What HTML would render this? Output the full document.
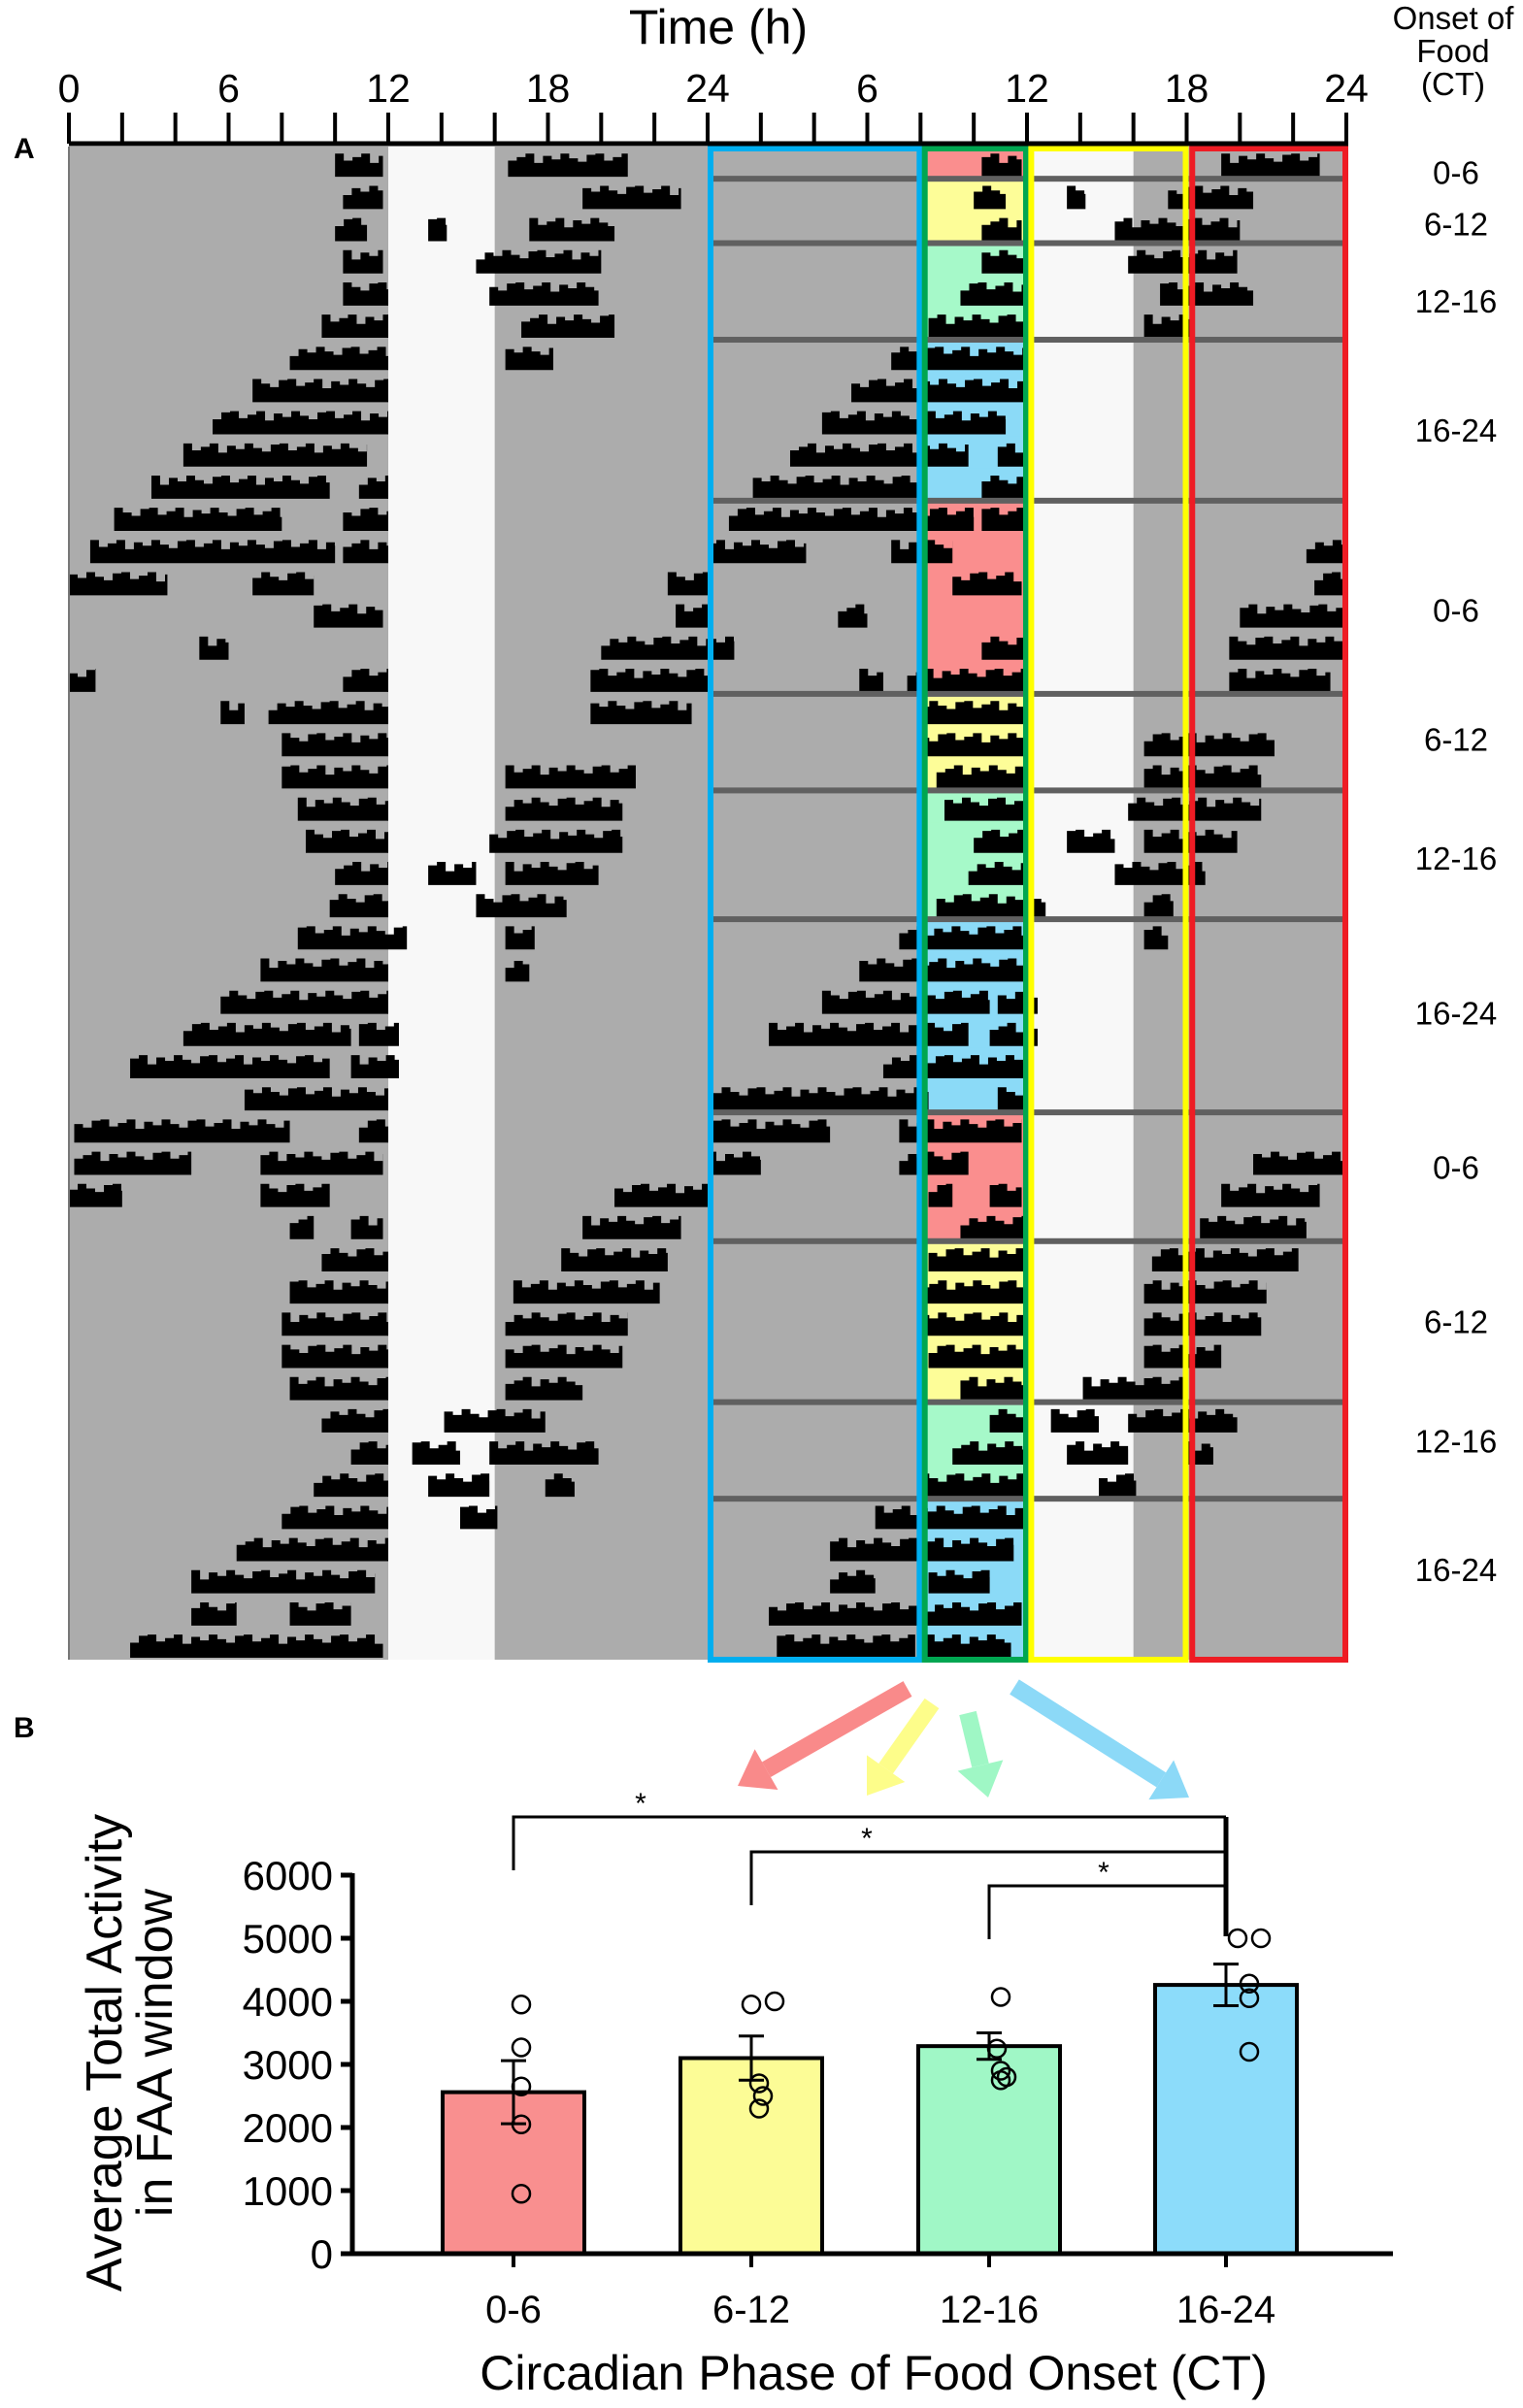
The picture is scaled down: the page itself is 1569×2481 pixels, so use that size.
<!DOCTYPE html>
<html><head><meta charset="utf-8">
<style>
html,body{margin:0;padding:0;background:#fff;}
svg{display:block;font-family:"Liberation Sans",Arial,sans-serif;}
</style></head>
<body>
<svg id="fig" width="1569" height="2481" viewBox="0 0 1569 2481" xmlns="http://www.w3.org/2000/svg">
<g id="acto"></g>
<g id="bars"></g>
</svg>
<script>
// ---------- Actogram data (hours within each day) ----------
const activityRows = [
[[10,11.8],[16.5,21]],[[10.3,11.8],[19.3,23]],[[10,11.2],[13.5,14.2],[17.3,20.5]],[[10.3,11.8],[15.3,20]],
[[10.3,12],[15.8,19.9]],[[9.5,12],[17,20.5]],[[8.3,12],[16.4,18.2]],[[6.9,12]],[[5.4,12]],[[4.3,11.2]],
[[3.1,9.8],[10.9,12]],[[1.7,8],[10.3,12]],[[0.8,10],[10.3,12]],[[0,3.7],[6.9,9.2],[22.5,24]],[[9.2,11.8],[22.8,24]],
[[4.9,6],[20,24]],[[0,1],[10.3,12],[19.6,24]],[[5.7,6.6],[7.5,12],[19.6,23.4]],[[8,12]],[[8,12],[16.4,21.3]],
[[8.6,12],[16.4,20.8]],[[8.9,12],[15.8,20.8]],[[10,12],[13.5,15.3],[16.4,19.9]],[[9.8,12],[15.3,18.7]],[[8.6,12.7],[16.4,17.5]],
[[7.2,12],[16.4,17.3]],[[5.7,12]],[[4.3,10.6],[10.9,12.4]],[[2.3,9.8],[10.6,12.4]],[[6.6,12]],
[[0.2,8.3],[10.9,12]],[[0.2,4.6],[7.2,11.8]],[[0,2],[7.2,9.8],[20.5,24]],[[8.3,9.2],[10.6,11.8],[19.3,23]],[[9.5,12],[18.5,22.5]],
[[8.3,12],[16.7,22.2]],[[8,12],[16.4,21]],[[8,12],[16.4,20.8]],[[8.3,12],[16.4,19.3]],[[9.5,12],[14.1,17.9]],
[[10.6,12],[12.9,14.7],[15.8,19.9]],[[9.2,12],[13.5,15.8],[17.9,19]],[[8,12],[14.7,16.1]],[[6.3,12]],[[4.6,11.5]],
[[4.6,6.3],[8.3,10.6]],[[2.3,11.8]],[[2.6,7.8],[8.2,11.4]]
];
const groupOfRow = ["p","y","y","g","g","g","b","b","b","b","b","p","p","p","p","p","p","y","y","y","g","g","g","g","b","b","b","b","b","b","p","p","p","p","y","y","y","y","y","g","g","g","b","b","b","b","b"];
const separatorRows = [1,3,6,11,17,20,24,30,34,39,42];
const groupLabels = ["0-6","6-12","12-16","16-24","0-6","6-12","12-16","16-24","0-6","6-12","12-16","16-24"];
const groupLabelRows = [0.3,1.9,4.3,8.3,13.9,17.9,21.6,26.4,31.2,36,39.7,43.7];
const hourTicks = [0,6,12,18,24,6,12,18,24];

// ---------- Bar chart data ----------
const phases = ["0-6","6-12","12-16","16-24"];
const means = [2560,3100,3290,4260];
const sems = [500,350,210,330];
const points = [[3950,3270,2650,2050,950],[3950,4000,2700,2500,2300],[4070,3250,2900,2750,2800],[5000,5000,4280,4050,3200]];
const jitter = [[8,8,8,8,8],[0,24,8,12,8],[12,8,12,12,18],[12,36,24,24,24]];
const yTicks = [0,1000,2000,3000,4000,5000,6000];

const NS="http://www.w3.org/2000/svg";
function mk(parent,tag,attrs){const e=document.createElementNS(NS,tag);for(const k in attrs)e.setAttribute(k,attrs[k]);parent.appendChild(e);return e;}

// ---------- Actogram ----------
const A=document.getElementById('acto');
const X0=71, DAY=658, TOP=151, BOT=1710, NR=47, RH=(BOT-TOP)/NR;
const hx=h=>X0+h/24*DAY;
const ry=r=>TOP+r*RH;
const groupFill={p:"#fa8e8e",y:"#fdfd98",g:"#a6f9c9",b:"#8bdaf7"};
const jag=[1,0.7,0.85,1,0.6,0.9,0.75,1,0.8,0.65,0.95];

let bg=mk(A,'rect',{x:X0,y:TOP,width:2*DAY,height:BOT-TOP,fill:"#acacac"});

let w1=mk(A,'rect',{x:hx(12),y:TOP,width:hx(16)-hx(12),height:BOT-TOP,fill:"#f8f8f8"});

let w2=mk(A,'rect',{x:hx(36),y:TOP,width:hx(40)-hx(36),height:BOT-TOP,fill:"#f8f8f8"});

for(let r=0;r<NR;r++){
  let c=mk(A,'rect',{x:hx(32.1),y:ry(r),width:hx(36)-hx(32.1),height:RH+1,fill:groupFill[groupOfRow[r]]});
  
}
let segCount=0;
function drawSeg(r,h0,h1){
  const base=ry(r)+RH*0.94,H=RH*0.72;
  const x0=hx(h0),x1=hx(h1);
  let d="M"+x0+","+base;
  let k=segCount++;
  for(let x=x0;x<x1;x+=9){
    const xe=Math.min(x1,x+9);
    const hh=H*jag[(k++)%jag.length];
    d+="L"+x+","+(base-hh)+"L"+xe+","+(base-hh);
  }
  d+="L"+Math.max(x1,x0+2)+","+base+"Z";
  let b=mk(A,'path',{d:d,fill:"#000"});
  
}
for(let r=0;r<NR;r++){
  activityRows[r].forEach(s=>drawSeg(r,s[0],s[1]));
  activityRows[r+1].forEach(s=>drawSeg(r,s[0]+24,s[1]+24));
}
separatorRows.forEach(r=>{
  let s=mk(A,'rect',{x:hx(24)+4,y:ry(r)-3,width:DAY-4,height:6,fill:"#606060"});
  
});
mk(A,'line',{x1:X0,y1:TOP,x2:X0,y2:BOT,stroke:"#777","stroke-width":2});
const boxes=[[24,32,"#00aeef","box-pre-faa"],[32.05,36,"#00a651","box-faa"],[36.05,42,"#ffff00","box-food"],[42.1,48,"#ee1c24","box-post-food"]];
boxes.forEach(b=>{let e=mk(A,'rect',{x:hx(b[0])+3,y:TOP+2,width:hx(b[1])-hx(b[0])-4,height:BOT-TOP-2,fill:"none",stroke:b[2],"stroke-width":6});
  });
mk(A,'line',{x1:X0,y1:148,x2:hx(48)+2,y2:148,stroke:"#000","stroke-width":5});
for(let h=0;h<=48;h+=2){mk(A,'line',{x1:hx(h),y1:116,x2:hx(h),y2:148,stroke:"#000","stroke-width":4});}
hourTicks.forEach((t,i)=>{let e=mk(A,'text',{x:hx(i*6),y:105,"font-size":41,"text-anchor":"middle"});e.textContent=t;
  });
let tt=mk(A,'text',{x:740,y:45,"font-size":50,"text-anchor":"middle"});tt.textContent="Time (h)";

let pa=mk(A,'text',{x:14,y:163,"font-size":30,"font-weight":"bold"});pa.textContent="A";

["Onset of","Food","(CT)"].forEach((s,i)=>{let e=mk(A,'text',{x:1497,y:30+i*34,"font-size":33,"text-anchor":"middle"});e.textContent=s;
  });
groupLabels.forEach((s,i)=>{let e=mk(A,'text',{x:1500,y:ry(groupLabelRows[i])+RH/2+12,"font-size":33,"text-anchor":"middle"});e.textContent=s;
  });

// ---------- Bar chart ----------
const B=document.getElementById('bars');
const Y0=2322, PER=65, AX=363, AXR=1435;
const yv=v=>Y0-v/1000*PER;
const cx=[529,774,1019,1263];
const barFill=["#f98f8f","#fcfc96","#a0f7c6","#8cdcfa"];
let pb=mk(B,'text',{x:14,y:1790,"font-size":30,"font-weight":"bold"});pb.textContent="B";

const arrows=[[935,1740,760,1840,"#f98a8a"],[960,1755,893,1850,"#fdfd8a"],[997,1765,1018,1852,"#9ff7c5"],[1045,1738,1225,1852,"#8cd9f7"]];
arrows.forEach(a=>{const dx=a[2]-a[0],dy=a[3]-a[1],L=Math.hypot(dx,dy),ux=dx/L,uy=dy/L,px=-uy,py=ux;
  const bx=a[2]-ux*34,by=a[3]-uy*34;
  let l=mk(B,'line',{x1:a[0],y1:a[1],x2:bx,y2:by,stroke:a[4],"stroke-width":18});
  
  let p=mk(B,'polygon',{points:`${a[2]},${a[3]} ${bx+px*24},${by+py*24} ${bx-px*24},${by-py*24}`,fill:a[4]});
  });
const brk=[[0,1872,660],[1,1908,893],[2,1943,1137]];
brk.forEach(b=>{let e=mk(B,'polyline',{points:`${cx[b[0]]},${b[1]+55} ${cx[b[0]]},${b[1]} ${cx[3]},${b[1]}`,fill:"none",stroke:"#000","stroke-width":3});
  
  let s=mk(B,'text',{x:b[2],y:b[1]-4,"font-size":30,"text-anchor":"middle"});s.textContent="*";
  });
mk(B,'line',{x1:cx[3],y1:1872,x2:cx[3],y2:1995,stroke:"#000","stroke-width":5});
phases.forEach((p,i)=>{
  let r=mk(B,'rect',{x:cx[i]-73,y:yv(means[i]),width:146,height:Y0-yv(means[i]),fill:barFill[i],stroke:"#000","stroke-width":4});
  
  const hi=yv(means[i]+sems[i]),lo=yv(means[i]-sems[i]);
  let e=mk(B,'path',{d:`M${cx[i]},${hi}V${lo}M${cx[i]-13},${hi}H${cx[i]+13}M${cx[i]-13},${lo}H${cx[i]+13}`,stroke:"#000","stroke-width":3,fill:"none"});
  
  points[i].forEach((v,j)=>{let c=mk(B,'circle',{cx:cx[i]+jitter[i][j],cy:yv(v),r:9,fill:"none",stroke:"#000","stroke-width":2.5});
    });
  let t=mk(B,'text',{x:cx[i],y:2393,"font-size":40,"text-anchor":"middle"});t.textContent=p;
  
  mk(B,'line',{x1:cx[i],y1:Y0,x2:cx[i],y2:Y0+14,stroke:"#000","stroke-width":4});
});
mk(B,'line',{x1:AX,y1:yv(6000)-2,x2:AX,y2:Y0+2,stroke:"#000","stroke-width":5});
mk(B,'line',{x1:AX-12,y1:Y0,x2:AXR,y2:Y0,stroke:"#000","stroke-width":5});
yTicks.forEach(v=>{mk(B,'line',{x1:AX-12,y1:yv(v),x2:AX,y2:yv(v),stroke:"#000","stroke-width":5});
  let t=mk(B,'text',{x:AX-20,y:yv(v)+15,"font-size":42,"text-anchor":"end"});t.textContent=v;
  });
let yt=mk(B,'text',{transform:"translate(125,2115) rotate(-90)","font-size":52,"text-anchor":"middle"});

let s1=mk(yt,'tspan',{x:0,y:0});s1.textContent="Average Total Activity";
let s2=mk(yt,'tspan',{x:0,y:52});s2.textContent="in FAA window";
let xt=mk(B,'text',{x:900,y:2462,"font-size":50,"text-anchor":"middle"});xt.textContent="Circadian Phase of Food Onset (CT)";

</script>
</body></html>
